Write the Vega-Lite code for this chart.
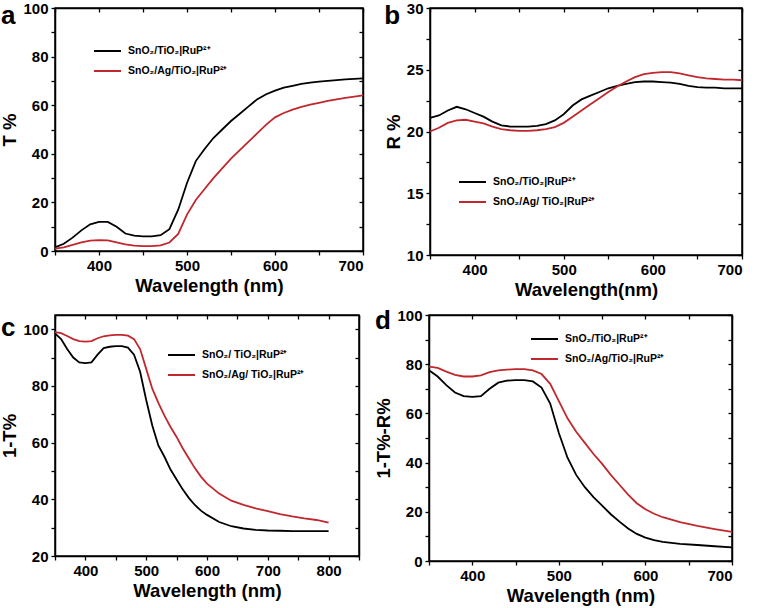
{
  "$schema": "https://vega.github.io/schema/vega-lite/v6.json",
  "padding": {"left": 0, "top": 0, "right": 0, "bottom": 0},
  "background": "white",
  "config": {
    "view": {"stroke": "black", "strokeWidth": 1.5},
    "axis": {"ticks": true, "domainColor": "black", "domainWidth": 1.5, "tickColor": "black", "tickWidth": 1.3, "tickSize": 4, "labelFont": "Liberation Sans", "labelFontWeight": "bold", "labelFontSize": 15, "labelColor": "black", "titleFont": "Liberation Sans", "titleFontWeight": "bold", "titleFontSize": 18.5, "titleColor": "black", "grid": false, "labelPadding": 3, "titlePadding": 3},
    "legend": {"labelFont": "Liberation Sans", "labelFontWeight": "bold", "labelFontSize": 10.5, "labelColor": "black", "symbolType": "stroke", "symbolStrokeWidth": 2, "symbolSize": 729, "clipHeight": 20, "labelOffset": 6, "padding": 0, "rowPadding": 0},
    "title": {"font": "Liberation Sans", "fontWeight": "bold", "fontSize": 26, "color": "black", "anchor": "start", "frame": "bounds", "offset": 0}
  },
  "resolve": {"scale": {"color": "independent"}, "legend": {"color": "independent"}},
  "vconcat": [
    {
      "spacing": 15,
      "resolve": {"scale": {"color": "independent"}, "legend": {"color": "independent"}},
      "hconcat": [
        {
          "title": {"text": "a", "dy": 32},
          "width": 308, "height": 243,
          "data": {"values": [
            {"w":350,"s1":1.5,"s2":1.0},{"w":360,"s1":3.0,"s2":1.5},{"w":370,"s1":5.5,"s2":2.5},{"w":380,"s1":8.5,"s2":3.5},{"w":390,"s1":11,"s2":4.3},{"w":400,"s1":12,"s2":4.5},{"w":410,"s1":12,"s2":4.4},{"w":420,"s1":10,"s2":3.6},{"w":430,"s1":7.2,"s2":2.7},{"w":440,"s1":6.3,"s2":2.2},{"w":450,"s1":6.0,"s2":2.0},{"w":460,"s1":6.0,"s2":2.0},{"w":470,"s1":6.5,"s2":2.3},{"w":480,"s1":9.0,"s2":3.5},{"w":490,"s1":17,"s2":7},{"w":500,"s1":28,"s2":15},{"w":510,"s1":37,"s2":21},{"w":520,"s1":42,"s2":25.5},{"w":530,"s1":46.5,"s2":30},{"w":540,"s1":50,"s2":34},{"w":550,"s1":53.5,"s2":38},{"w":560,"s1":56.5,"s2":41.5},{"w":570,"s1":59.5,"s2":45},{"w":580,"s1":62.5,"s2":48.5},{"w":590,"s1":64.5,"s2":52},{"w":600,"s1":66,"s2":55},{"w":610,"s1":67.2,"s2":56.8},{"w":620,"s1":68,"s2":58.2},{"w":630,"s1":68.8,"s2":59.3},{"w":640,"s1":69.3,"s2":60.2},{"w":650,"s1":69.7,"s2":61},{"w":660,"s1":70,"s2":61.8},{"w":670,"s1":70.3,"s2":62.4},{"w":680,"s1":70.6,"s2":63},{"w":690,"s1":70.8,"s2":63.5},{"w":700,"s1":71,"s2":64}
          ]},
          "transform": [{"fold": ["s1", "s2"], "as": ["s", "v"]}],
          "layer": [
            {
              "mark": {"type": "line", "strokeWidth": 1.8},
              "encoding": {
                "x": {"field": "w", "type": "quantitative", "scale": {"domain": [350, 700], "nice": false, "zero": false},
                  "axis": {"orient": "bottom", "title": "Wavelength (nm)", "values": [350,400,450,500,550,600,650,700], "labelExpr": "datum.value % 100 === 0 ? datum.label : ''"}},
                "y": {"field": "v", "type": "quantitative", "scale": {"domain": [0, 100], "nice": false},
                  "axis": {"orient": "left", "title": "T %", "values": [0,10,20,30,40,50,60,70,80,90,100], "labelExpr": "datum.value % 20 === 0 ? datum.label : ''"}},
                "color": {"field": "s", "type": "nominal", "scale": {"domain": ["s1", "s2"], "range": ["#000000", "#c0282d"]},
                  "legend": {"orient": "none", "legendX": 38, "legendY": 33, "title": null, "labelExpr": "datum.value === 's1' ? 'SnO₂/TiO₂|RuP²⁺' : 'SnO₂/Ag/TiO₂|RuP²⁺'"}}
              }
            },
            {
              "mark": {"type": "line", "opacity": 0},
              "encoding": {
                "x": {"field": "w", "type": "quantitative", "axis": {"orient": "top", "title": null, "labels": false, "tickSize": -4, "values": [350,400,450,500,550,600,650,700]}},
                "y": {"field": "v", "type": "quantitative", "axis": {"orient": "right", "title": null, "labels": false, "tickSize": -4, "values": [0,10,20,30,40,50,60,70,80,90,100]}}
              }
            }
          ],
          "resolve": {"axis": {"x": "independent", "y": "independent"}}
        },
        {
          "title": {"text": "b", "dy": 32},
          "width": 312, "height": 247,
          "data": {"values": [
            {"w":350,"s1":21.1,"s2":20.0},{"w":360,"s1":21.3,"s2":20.3},{"w":370,"s1":21.7,"s2":20.7},{"w":380,"s1":22.0,"s2":20.9},{"w":390,"s1":21.8,"s2":20.95},{"w":400,"s1":21.5,"s2":20.8},{"w":410,"s1":21.2,"s2":20.65},{"w":420,"s1":20.8,"s2":20.4},{"w":430,"s1":20.5,"s2":20.2},{"w":440,"s1":20.4,"s2":20.1},{"w":450,"s1":20.4,"s2":20.05},{"w":460,"s1":20.4,"s2":20.05},{"w":470,"s1":20.45,"s2":20.1},{"w":480,"s1":20.6,"s2":20.2},{"w":490,"s1":20.9,"s2":20.35},{"w":500,"s1":21.4,"s2":20.7},{"w":510,"s1":22.1,"s2":21.2},{"w":520,"s1":22.6,"s2":21.7},{"w":530,"s1":22.9,"s2":22.2},{"w":540,"s1":23.2,"s2":22.7},{"w":550,"s1":23.5,"s2":23.2},{"w":560,"s1":23.7,"s2":23.65},{"w":570,"s1":23.85,"s2":24.05},{"w":580,"s1":24.0,"s2":24.4},{"w":590,"s1":24.05,"s2":24.65},{"w":600,"s1":24.05,"s2":24.75},{"w":610,"s1":24.0,"s2":24.8},{"w":620,"s1":23.95,"s2":24.8},{"w":630,"s1":23.85,"s2":24.7},{"w":640,"s1":23.7,"s2":24.55},{"w":650,"s1":23.6,"s2":24.4},{"w":660,"s1":23.55,"s2":24.3},{"w":670,"s1":23.55,"s2":24.25},{"w":680,"s1":23.5,"s2":24.2},{"w":690,"s1":23.5,"s2":24.2},{"w":700,"s1":23.5,"s2":24.15}
          ]},
          "transform": [{"fold": ["s1", "s2"], "as": ["s", "v"]}],
          "layer": [
            {
              "mark": {"type": "line", "strokeWidth": 1.8},
              "encoding": {
                "x": {"field": "w", "type": "quantitative", "scale": {"domain": [350, 700], "nice": false, "zero": false},
                  "axis": {"orient": "bottom", "title": "Wavelength(nm)", "values": [350,400,450,500,550,600,650,700], "labelExpr": "datum.value % 100 === 0 ? datum.label : ''"}},
                "y": {"field": "v", "type": "quantitative", "scale": {"domain": [10, 30], "nice": false, "zero": false},
                  "axis": {"orient": "left", "title": "R %", "values": [10,12.5,15,17.5,20,22.5,25,27.5,30], "labelExpr": "datum.value % 5 === 0 ? datum.label : ''"}},
                "color": {"field": "s", "type": "nominal", "scale": {"domain": ["s1", "s2"], "range": ["#000000", "#c0282d"]},
                  "legend": {"orient": "none", "legendX": 28, "legendY": 164, "title": null, "labelExpr": "datum.value === 's1' ? 'SnO₂/TiO₂|RuP²⁺' : 'SnO₂/Ag/ TiO₂|RuP²⁺'"}}
              }
            },
            {
              "mark": {"type": "line", "opacity": 0},
              "encoding": {
                "x": {"field": "w", "type": "quantitative", "axis": {"orient": "top", "title": null, "labels": false, "tickSize": -4, "values": [350,400,450,500,550,600,650,700]}},
                "y": {"field": "v", "type": "quantitative", "axis": {"orient": "right", "title": null, "labels": false, "tickSize": -4, "values": [10,12.5,15,17.5,20,22.5,25,27.5,30]}}
              }
            }
          ],
          "resolve": {"axis": {"x": "independent", "y": "independent"}}
        }
      ]
    },
    {
      "spacing": 13,
      "resolve": {"scale": {"color": "independent"}, "legend": {"color": "independent"}},
      "hconcat": [
        {
          "title": {"text": "c", "dy": 31},
          "width": 304, "height": 241,
          "data": {"values": [
            {"w":350,"s1":98.5,"s2":99},{"w":360,"s1":96.5,"s2":98.6},{"w":370,"s1":93,"s2":97.6},{"w":380,"s1":90,"s2":96.5},{"w":390,"s1":88.3,"s2":95.8},{"w":400,"s1":88,"s2":95.6},{"w":410,"s1":88.3,"s2":95.8},{"w":420,"s1":91,"s2":96.8},{"w":430,"s1":93.3,"s2":97.5},{"w":440,"s1":93.8,"s2":97.8},{"w":450,"s1":94,"s2":98},{"w":460,"s1":94,"s2":98},{"w":470,"s1":93.5,"s2":97.7},{"w":480,"s1":91,"s2":96.5},{"w":490,"s1":85,"s2":93},{"w":500,"s1":75,"s2":86},{"w":510,"s1":66,"s2":79},{"w":520,"s1":59,"s2":74},{"w":530,"s1":55,"s2":69.5},{"w":540,"s1":50.5,"s2":65.5},{"w":550,"s1":47,"s2":62},{"w":560,"s1":43.5,"s2":58},{"w":570,"s1":40.5,"s2":54.5},{"w":580,"s1":38,"s2":51},{"w":590,"s1":36,"s2":48},{"w":600,"s1":34.5,"s2":45.5},{"w":620,"s1":32,"s2":42},{"w":640,"s1":30.5,"s2":39.5},{"w":660,"s1":29.7,"s2":38},{"w":680,"s1":29.2,"s2":36.8},{"w":700,"s1":29,"s2":35.8},{"w":720,"s1":28.9,"s2":34.8},{"w":740,"s1":28.8,"s2":34},{"w":760,"s1":28.8,"s2":33.3},{"w":780,"s1":28.8,"s2":32.7},{"w":800,"s1":28.8,"s2":31.8}
          ]},
          "transform": [{"fold": ["s1", "s2"], "as": ["s", "v"]}],
          "layer": [
            {
              "mark": {"type": "line", "strokeWidth": 1.8},
              "encoding": {
                "x": {"field": "w", "type": "quantitative", "scale": {"domain": [350, 850], "nice": false, "zero": false},
                  "axis": {"orient": "bottom", "title": "Wavelength (nm)", "values": [350,400,450,500,550,600,650,700,750,800,850], "labelExpr": "datum.value % 100 === 0 ? datum.label : ''"}},
                "y": {"field": "v", "type": "quantitative", "scale": {"domain": [20, 105], "nice": false, "zero": false},
                  "axis": {"orient": "left", "title": "1-T%", "values": [20,30,40,50,60,70,80,90,100], "labelExpr": "datum.value % 20 === 0 ? datum.label : ''"}},
                "color": {"field": "s", "type": "nominal", "scale": {"domain": ["s1", "s2"], "range": ["#000000", "#c0282d"]},
                  "legend": {"orient": "none", "legendX": 112, "legendY": 30, "title": null, "labelExpr": "datum.value === 's1' ? 'SnO₂/ TiO₂|RuP²⁺' : 'SnO₂/Ag/ TiO₂|RuP²⁺'"}}
              }
            },
            {
              "mark": {"type": "line", "opacity": 0},
              "encoding": {
                "x": {"field": "w", "type": "quantitative", "axis": {"orient": "top", "title": null, "labels": false, "tickSize": -4, "values": [350,400,450,500,550,600,650,700,750,800,850]}},
                "y": {"field": "v", "type": "quantitative", "axis": {"orient": "right", "title": null, "labels": false, "tickSize": -4, "values": [20,30,40,50,60,70,80,90,100]}}
              }
            }
          ],
          "resolve": {"axis": {"x": "independent", "y": "independent"}}
        },
        {
          "title": {"text": "d", "dy": 30},
          "width": 303, "height": 246,
          "data": {"values": [
            {"w":350,"s1":77.5,"s2":79},{"w":360,"s1":75,"s2":78.5},{"w":370,"s1":71.5,"s2":77},{"w":380,"s1":68.5,"s2":75.7},{"w":390,"s1":67,"s2":75},{"w":400,"s1":66.7,"s2":75},{"w":410,"s1":67,"s2":75.5},{"w":420,"s1":70,"s2":76.8},{"w":430,"s1":72.5,"s2":77.5},{"w":440,"s1":73.3,"s2":77.8},{"w":450,"s1":73.5,"s2":78},{"w":460,"s1":73.5,"s2":78},{"w":470,"s1":73,"s2":77.5},{"w":480,"s1":70.5,"s2":76},{"w":490,"s1":64,"s2":72},{"w":500,"s1":52,"s2":65},{"w":510,"s1":42,"s2":58},{"w":520,"s1":35,"s2":52.5},{"w":530,"s1":30,"s2":48},{"w":540,"s1":26,"s2":43.5},{"w":550,"s1":22.5,"s2":39.5},{"w":560,"s1":19,"s2":35},{"w":570,"s1":16,"s2":31},{"w":580,"s1":13.2,"s2":27},{"w":590,"s1":11,"s2":23.5},{"w":600,"s1":9.5,"s2":21},{"w":610,"s1":8.5,"s2":19.2},{"w":620,"s1":7.8,"s2":17.8},{"w":640,"s1":7,"s2":15.8},{"w":660,"s1":6.5,"s2":14.3},{"w":680,"s1":6,"s2":13},{"w":700,"s1":5.5,"s2":11.8}
          ]},
          "transform": [{"fold": ["s1", "s2"], "as": ["s", "v"]}],
          "layer": [
            {
              "mark": {"type": "line", "strokeWidth": 1.8},
              "encoding": {
                "x": {"field": "w", "type": "quantitative", "scale": {"domain": [350, 700], "nice": false, "zero": false},
                  "axis": {"orient": "bottom", "title": "Wavelength (nm)", "values": [350,400,450,500,550,600,650,700], "labelExpr": "datum.value % 100 === 0 ? datum.label : ''"}},
                "y": {"field": "v", "type": "quantitative", "scale": {"domain": [0, 100], "nice": false},
                  "axis": {"orient": "left", "title": "1-T%-R%", "values": [0,10,20,30,40,50,60,70,80,90,100], "labelExpr": "datum.value % 20 === 0 ? datum.label : ''"}},
                "color": {"field": "s", "type": "nominal", "scale": {"domain": ["s1", "s2"], "range": ["#000000", "#c0282d"]},
                  "legend": {"orient": "none", "legendX": 101, "legendY": 14, "title": null, "labelExpr": "datum.value === 's1' ? 'SnO₂/TiO₂|RuP²⁺' : 'SnO₂/Ag/TiO₂|RuP²⁺'"}}
              }
            },
            {
              "mark": {"type": "line", "opacity": 0},
              "encoding": {
                "x": {"field": "w", "type": "quantitative", "axis": {"orient": "top", "title": null, "labels": false, "tickSize": -4, "values": [350,400,450,500,550,600,650,700]}},
                "y": {"field": "v", "type": "quantitative", "axis": {"orient": "right", "title": null, "labels": false, "tickSize": -4, "values": [0,10,20,30,40,50,60,70,80,90,100]}}
              }
            }
          ],
          "resolve": {"axis": {"x": "independent", "y": "independent"}}
        }
      ]
    }
  ],
  "spacing": 7
}
